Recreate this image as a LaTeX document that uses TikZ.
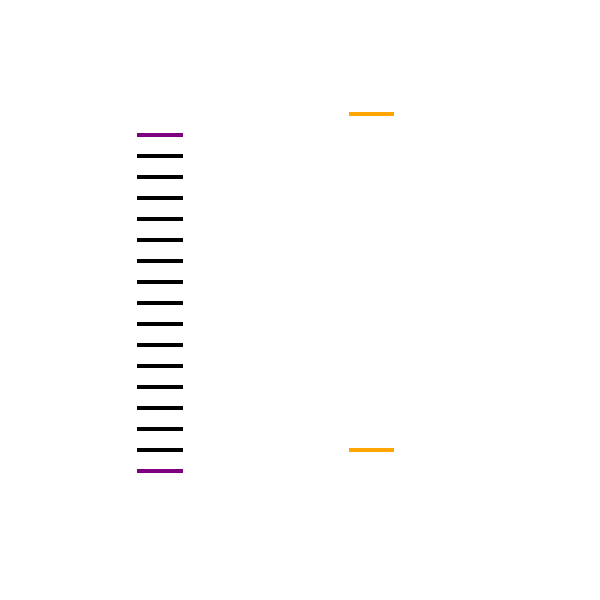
\documentclass[tikz,border=0pt]{standalone}
\usepackage{xcolor}
\usepackage{tikz}
\definecolor{lvpurple}{HTML}{800080}
\definecolor{lvorange}{HTML}{FFA500}
\definecolor{lvblack}{HTML}{000000}
\tikzset{
  level/.style={line width=0.95pt, draw=lvblack},
  edgelevel/.style={level, draw=lvpurple},
  sidelevel/.style={level, draw=lvorange}
}
\begin{document}
\begin{tikzpicture}[x=0.01cm, y=-0.01cm]
  \useasboundingbox (0,0) rectangle (600,600);

  % left stack of levels
  \draw[edgelevel] (137,135) -- (183,135);
  \foreach \k in {1,...,15} {
    \draw[level] (137,135+21*\k) -- (183,135+21*\k);
  }
  \draw[edgelevel] (137,471) -- (183,471);

  % right pair of levels
  \draw[sidelevel] (349,114) -- (394,114);
  \draw[sidelevel] (349,450) -- (394,450);
\end{tikzpicture}
\end{document}
